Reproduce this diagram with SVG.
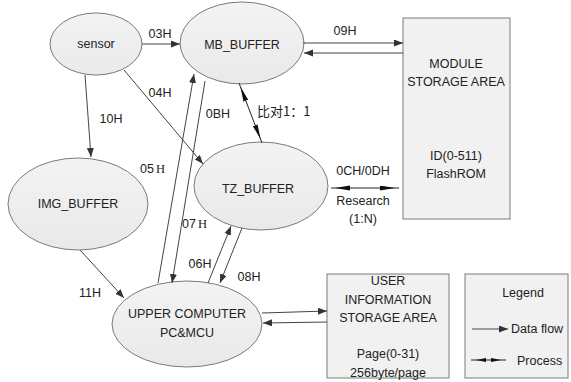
<svg xmlns="http://www.w3.org/2000/svg" width="571" height="382" viewBox="0 0 571 382">
<defs>
<marker id="arr" markerUnits="userSpaceOnUse" markerWidth="10" markerHeight="8" refX="9" refY="3.5" orient="auto"><path d="M0,0 L9,3.5 L0,7 z" fill="#333"/></marker>
<marker id="proc" markerUnits="userSpaceOnUse" markerWidth="16" markerHeight="6" refX="19" refY="2.5" orient="auto-start-reverse"><path d="M0,0 L15,2.5 L0,5 z" fill="#111"/></marker>
<marker id="procs" markerUnits="userSpaceOnUse" markerWidth="11" markerHeight="5" refX="15" refY="2" orient="auto-start-reverse"><path d="M0,0 L10,2 L0,4 z" fill="#111"/></marker>
<linearGradient id="eg" x1="0" y1="0" x2="0" y2="1"><stop offset="0" stop-color="#f3f3f3"/><stop offset="1" stop-color="#e9e9e9"/></linearGradient>
</defs>
<style>
.n{fill:url(#eg);stroke:#7a7a7a;stroke-width:1}
.b{fill:#f1f1f1;stroke:#7a7a7a;stroke-width:1}
text{font-family:"Liberation Sans",Arial,sans-serif;font-size:12.5px;fill:#222}
.c{text-anchor:middle}
.f{stroke:#444;stroke-width:1;fill:none;marker-end:url(#arr)}
.p{stroke:#222;stroke-width:1;fill:none;marker-start:url(#proc);marker-end:url(#proc)}
.ps{stroke:#222;stroke-width:1;fill:none;marker-start:url(#procs);marker-end:url(#procs)}
.cjk{font-family:"Noto Sans CJK SC",sans-serif}
.s{font-family:"Liberation Serif",serif}
</style>
<rect width="571" height="382" fill="#fff"/>
<g id="sensor"><ellipse class="n" cx="96" cy="44" rx="46" ry="31"/><text class="c" x="96" y="48">sensor</text></g>
<g id="mb_buffer"><ellipse class="n" cx="242" cy="43" rx="62" ry="41"/><text class="c" x="242" y="49">MB_BUFFER</text></g>
<g id="img_buffer"><ellipse class="n" cx="78" cy="204" rx="70" ry="46"/><text class="c" x="78" y="208">IMG_BUFFER</text></g>
<g id="tz_buffer"><ellipse class="n" cx="261" cy="186" rx="67" ry="44"/><text class="c" x="258" y="193">TZ_BUFFER</text></g>
<g id="upper"><ellipse class="n" cx="187" cy="324" rx="75" ry="43"/><text class="c" x="187" y="318">UPPER COMPUTER</text><text class="c" x="187" y="337">PC&amp;MCU</text></g>
<g id="module"><rect class="b" x="403" y="18" width="107" height="201"/><text class="c" x="456" y="68">MODULE</text><text class="c" x="456" y="86">STORAGE AREA</text><text class="c" x="456" y="160">ID(0-511)</text><text class="c" x="456" y="178">FlashROM</text></g>
<g id="user"><rect class="b" x="327" y="274" width="122" height="104"/><text class="c" x="388" y="285">USER</text><text class="c" x="388" y="304">INFORMATION</text><text class="c" x="388" y="322">STORAGE AREA</text><text class="c" x="388" y="358">Page(0-31)</text><text class="c" x="388" y="377">256byte/page</text></g>
<g id="legend"><rect class="b" x="465" y="274" width="103" height="104"/><text class="c" x="523" y="297">Legend</text><line class="f" x1="472" y1="329" x2="508" y2="329"/><text x="511" y="333">Data flow</text><line class="ps" x1="471" y1="360" x2="506" y2="360"/><text x="517" y="365">Process</text></g>
<g id="connectors">
<line class="f" x1="142" y1="44" x2="180" y2="44"/>
<line class="f" x1="303" y1="43" x2="403" y2="43"/>
<line class="f" x1="403" y1="53" x2="304" y2="53"/>
<line class="f" x1="85" y1="75" x2="91" y2="157"/>
<line class="f" x1="124" y1="70" x2="203" y2="164"/>
<line class="f" x1="158" y1="283" x2="194" y2="74"/>
<line class="f" x1="205" y1="81" x2="172" y2="283"/>
<line class="f" x1="208" y1="283" x2="231" y2="226"/>
<line class="f" x1="242" y1="228" x2="220" y2="283"/>
<line class="f" x1="80" y1="250" x2="124" y2="298"/>
<line class="f" x1="262" y1="313" x2="327" y2="311"/>
<line class="f" x1="327" y1="322" x2="263" y2="323"/>
<line class="p" x1="239" y1="83" x2="262" y2="143"/>
<line class="p" x1="331" y1="188" x2="399" y2="188"/>
</g>
<g id="labels">
<text class="c" x="160" y="38">03H</text>
<text class="c" x="345" y="35">09H</text>
<text class="c" x="111" y="123">10H</text>
<text class="c" x="160" y="97">04H</text>
<text class="c" x="218" y="118">0BH</text>
<text x="140" y="173">05<tspan class="s" dx="2">H</tspan></text>
<text x="182" y="228">07<tspan class="s" dx="2">H</tspan></text>
<text class="c" x="200" y="268">06H</text>
<text class="c" x="249" y="281">08H</text>
<text class="c" x="90" y="297">11H</text>
<text class="cjk" x="257" y="116" style="font-size:13px">比对1：1</text>
<text class="c" x="363" y="175">0CH/0DH</text>
<text class="c" x="363" y="205">Research</text>
<text class="c" x="363" y="223">(1:N)</text>
</g>
</svg>
